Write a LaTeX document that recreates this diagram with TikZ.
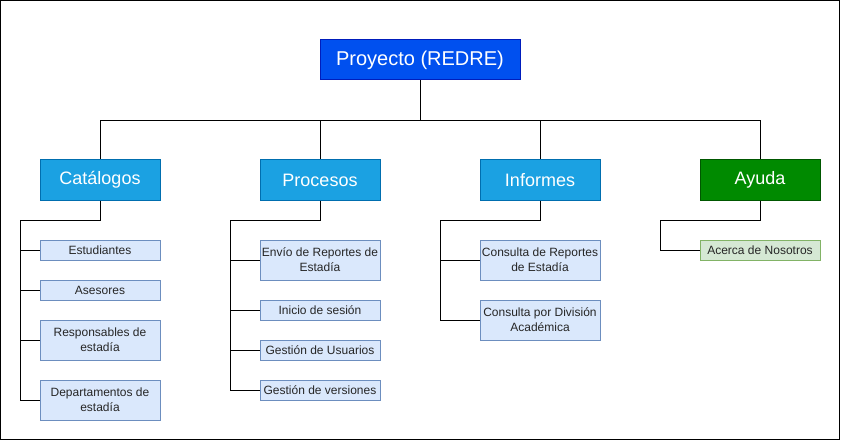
\documentclass[tikz,border=0pt]{standalone}
\usepackage{fontspec}
\setmainfont{Liberation Sans}
\begin{document}
\begin{tikzpicture}[x=1pt,y=-1pt,
  box/.style={draw, line width=1pt, inner sep=0pt, align=center},
  topbox/.style={box, fill=topfill, draw=topline, text=white, minimum width=200pt, minimum height=40pt, font=\fontsize{20}{24}\selectfont},
  catbox/.style={box, fill=catfill, draw=catline, text=white, minimum width=120pt, minimum height=40pt, font=\fontsize{18}{22}\selectfont},
  helpbox/.style={catbox, fill=helpfill, draw=helpline},
  subbox/.style={box, fill=subfill, draw=subline, minimum width=120pt, text=black!85, font=\fontsize{12}{15}\selectfont},
  subgreen/.style={subbox, fill=greenfill, draw=greenline},
  conn/.style={line width=1pt, draw=black}
]
\definecolor{topfill}{HTML}{0050EF}
\definecolor{topline}{HTML}{001DBC}
\definecolor{catfill}{HTML}{1BA1E2}
\definecolor{catline}{HTML}{006EAF}
\definecolor{helpfill}{HTML}{008A00}
\definecolor{helpline}{HTML}{005700}
\definecolor{subfill}{HTML}{DAE8FC}
\definecolor{subline}{HTML}{6C8EBF}
\definecolor{greenfill}{HTML}{D5E8D4}
\definecolor{greenline}{HTML}{82B366}

\useasboundingbox (0,0) rectangle (841,441);
\draw[line width=1pt] (0.5,0.5) rectangle (839.5,439.5);

\node[topbox] (proj) at (420,60) {Proyecto (REDRE)};
\node[catbox] (cat) at (100,180) {Catálogos};
\node[catbox] (pro) at (320,180) {Procesos};
\node[catbox] (inf) at (540,180) {Informes};
\node[helpbox] (ayu) at (760,180) {Ayuda};

% Catalogos children
\node[subbox, minimum height=20pt] (est) at (100,250) {Estudiantes};
\node[subbox, minimum height=20pt] (ase) at (100,290) {Asesores};
\node[subbox, minimum height=40pt] (res) at (100,340) {Responsables de\\estadía};
\node[subbox, minimum height=40pt] (dep) at (100,400) {Departamentos de\\estadía};

% Procesos children
\node[subbox, minimum height=40pt] (env) at (320,260) {Envío de Reportes de\\Estadía};
\node[subbox, minimum height=20pt] (ini) at (320,310) {Inicio de sesión};
\node[subbox, minimum height=20pt] (gus) at (320,350) {Gestión de Usuarios};
\node[subbox, minimum height=20pt] (gve) at (320,390) {Gestión de versiones};

% Informes children
\node[subbox, minimum height=40pt] (crep) at (540,260) {Consulta de Reportes\\de Estadía};
\node[subbox, minimum height=40pt] (cdiv) at (540,320) {Consulta por División\\Académica};

% Ayuda child
\node[subgreen, minimum height=20pt] (acer) at (760,250) {Acerca de Nosotros};

% spines
\coordinate (scat) at (20,220);
\coordinate (spro) at (230,220);
\coordinate (sinf) at (440,220);
\coordinate (sayu) at (660,220);

% top bus
\draw[conn] (proj.south) -- ++(0,40) -| (cat.north);
\draw[conn] (proj.south) -- ++(0,40) -| (pro.north);
\draw[conn] (proj.south) -- ++(0,40) -| (inf.north);
\draw[conn] (proj.south) -- ++(0,40) -| (ayu.north);

% Catalogos
\draw[conn] (cat.south) |- (scat) -- (scat |- dep.west);
\foreach \n in {est,ase,res,dep} \draw[conn] (\n.west) -- (scat |- \n.west);
% Procesos
\draw[conn] (pro.south) |- (spro) -- (spro |- gve.west);
\foreach \n in {env,ini,gus,gve} \draw[conn] (\n.west) -- (spro |- \n.west);
% Informes
\draw[conn] (inf.south) |- (sinf) -- (sinf |- cdiv.west);
\foreach \n in {crep,cdiv} \draw[conn] (\n.west) -- (sinf |- \n.west);
% Ayuda
\draw[conn] (ayu.south) |- (sayu) -- (sayu |- acer.west) -- (acer.west);
\end{tikzpicture}
\end{document}
